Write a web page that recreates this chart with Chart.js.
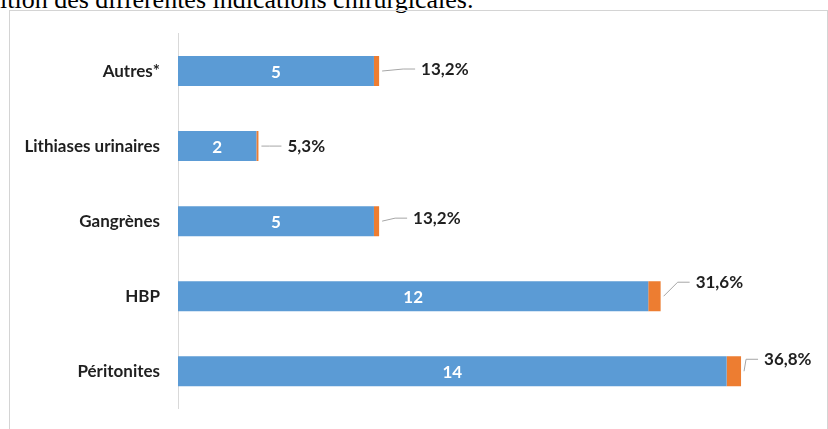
<!DOCTYPE html>
<html>
<head>
<meta charset="utf-8">
<script src="https://cdn.jsdelivr.net/npm/chart.js@4/dist/chart.umd.min.js"></script>
<style>
  html, body { margin: 0; padding: 0; background: #fff; width: 828px; height: 429px; overflow: hidden; }
  #cap { position: absolute; left: 0; top: -13px; font: 26px/26px "Liberation Serif", serif; color: #000; white-space: nowrap; }
  #box { position: absolute; left: 9px; top: 10px; width: 817px; height: 440px; border: 1px solid #d4d4d4; }
  #wrap { position: absolute; left: 0; top: 0; width: 828px; height: 429px; }
</style>
</head>
<body>
<div id="cap">ition des différentes indications chirurgicales.</div>
<div id="box"></div>
<div id="wrap"><canvas id="c" width="828" height="429"></canvas></div>
<script>
// ── Data ──────────────────────────────────────────────────────
const categories = ['Autres*', 'Lithiases urinaires', 'Gangrènes', 'HBP', 'Péritonites'];
const counts = [5, 2, 5, 12, 14];
const percents = [13.2, 5.3, 13.2, 31.6, 36.8];
const xMax = 16;

// where each percent label sits, relative to bar end / bar centre
const labelOffsets = [[42, -2], [29, 0], [34, -3], [35, -14], [23, -12]];

const FONT = 'Lato';

// ── Labels: counts inside bars, percents with leader lines ────
const barLabels = {
  id: 'barLabels',
  afterDatasetsDraw(chart) {
    const ctx = chart.ctx;
    const blue = chart.getDatasetMeta(0).data;
    const orange = chart.getDatasetMeta(1).data;
    ctx.save();
    ctx.font = `bold 17px ${FONT}`;
    ctx.textBaseline = 'middle';
    blue.forEach((bar, i) => {
      ctx.fillStyle = '#ffffff';
      ctx.textAlign = 'center';
      ctx.fillText(String(counts[i]), (bar.base + bar.x) / 2, bar.y + 1);

      const end = orange[i].x;
      const [dx, dy] = labelOffsets[i];
      const lx = end + dx, ly = bar.y + dy;
      ctx.strokeStyle = '#a6a6a6';
      ctx.lineWidth = 1;
      ctx.beginPath();
      ctx.moveTo(end + 3, bar.y);
      ctx.lineTo(lx - 18, ly);
      ctx.lineTo(lx - 6, ly);
      ctx.stroke();

      ctx.fillStyle = '#1f1f1f';
      ctx.textAlign = 'left';
      ctx.fillText(percents[i].toFixed(1).replace('.', ',') + '%', lx, ly);
    });
    ctx.restore();
  }
};

new Chart(document.getElementById('c'), {
  type: 'bar',
  data: {
    labels: categories,
    datasets: [
      { data: counts, backgroundColor: '#5b9bd5', barPercentage: 0.5, categoryPercentage: 0.8 },
      { data: percents.map(p => p / 100), backgroundColor: '#ed7d31', barPercentage: 0.5, categoryPercentage: 0.8 }
    ]
  },
  options: {
    indexAxis: 'y',
    responsive: false,
    animation: false,
    devicePixelRatio: 1,
    layout: { padding: { top: 33.5, bottom: 12.5, right: 23, left: 0 } },
    scales: {
      x: { display: false, stacked: true, min: 0, max: xMax },
      y: {
        stacked: true,
        grid: { display: false },
        border: { display: true, color: '#d9d9d9', width: 1 },
        ticks: { color: '#1f1f1f', padding: 10, font: { family: FONT, size: 17, weight: 'bold' } },
        afterFit(scale) { scale.width = 178; }
      }
    },
    plugins: { legend: { display: false }, tooltip: { enabled: false } }
  },
  plugins: [barLabels]
});
</script>
</body>
</html>
